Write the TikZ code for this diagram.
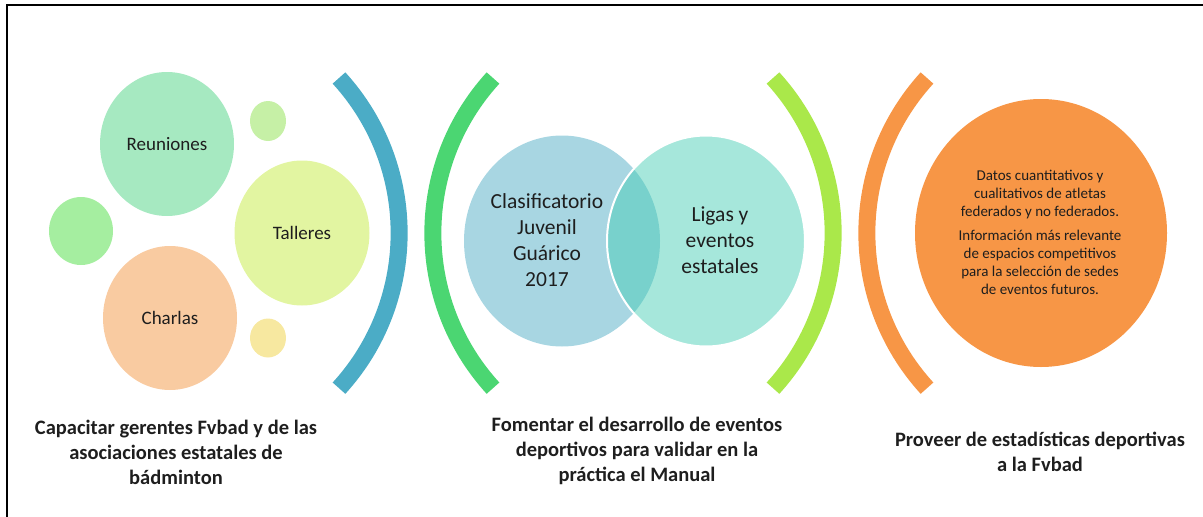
\documentclass[tikz,border=0pt]{standalone}
\usepackage{fontspec}
\setmainfont{Carlito}
\usetikzlibrary{shapes.geometric}
\definecolor{cReu}{HTML}{A6E9C1}
\definecolor{cSmA}{HTML}{C6F0A6}
\definecolor{cLeft}{HTML}{A5EEA0}
\definecolor{cTal}{HTML}{E2F5A1}
\definecolor{cCha}{HTML}{F9CBA1}
\definecolor{cSmB}{HTML}{F7E8A0}
\definecolor{cBlue}{HTML}{4BACC6}
\definecolor{cGreen}{HTML}{4BD672}
\definecolor{cCla}{HTML}{A8D6E2}
\definecolor{cLig}{HTML}{A6E7DB}
\definecolor{cOver}{HTML}{78D1CC}
\definecolor{cLime}{HTML}{AAE84A}
\definecolor{cOrange}{HTML}{F79646}
\definecolor{cText}{HTML}{1E1E1E}
\begin{document}
\begin{tikzpicture}[x=1pt,y=-1pt,
  bubble/.style={ellipse, inner sep=0pt, text=cText},
  bracket/.style={line width=17pt},
  goal/.style={align=center, text=cText, font=\fontsize{20.5}{25}\selectfont\bfseries},
  frameline/.style={line width=2pt, black}]
\useasboundingbox (0,0) rectangle (1203,517);
% frame
\coordinate (fbl) at (7,517);
\coordinate (ftl) at (7,5);
\coordinate (ftr) at (1203,5);
\draw[frameline] (fbl) -- (ftl) -- (ftr);

% group 1 bubbles
\node[bubble, fill=cReu, minimum width=134pt, minimum height=144pt, font=\fontsize{19}{22}\selectfont] (reu) at (167,144) {Reuniones};
\node[bubble, fill=cSmA, minimum width=36pt, minimum height=40pt] (sma) at (268,121) {};
\node[bubble, fill=cLeft, minimum width=64pt, minimum height=68pt] (lft) at (81,231) {};
\node[bubble, fill=cTal, minimum width=135pt, minimum height=145pt, font=\fontsize{19}{22}\selectfont] (tal) at (302,233) {Talleres};
\node[bubble, fill=cCha, minimum width=134pt, minimum height=144pt, font=\fontsize{19}{22}\selectfont] (cha) at (170,318) {Charlas};
\node[bubble, fill=cSmB, minimum width=36pt, minimum height=39pt] (smb) at (268,338) {};

% brackets
\coordinate (b1) at (339,78);
\draw[bracket, cBlue] (b1) arc[start angle=42.4, end angle=-42.4, radius=230pt];
\coordinate (b2) at (493,78);
\draw[bracket, cGreen] (b2) arc[start angle=137.6, end angle=222.4, radius=230pt];
\coordinate (b3) at (773,78);
\draw[bracket, cLime] (b3) arc[start angle=42.4, end angle=-42.4, radius=230pt];
\coordinate (b4) at (927,78);
\draw[bracket, cOrange] (b4) arc[start angle=137.6, end angle=222.4, radius=230pt];

% venn
\node[bubble, fill=cCla, minimum width=196pt, minimum height=211pt] (cla) at (562,241) {};
\node[bubble, fill=cLig, minimum width=198pt, minimum height=211pt] (lig) at (706,241) {};
\begin{scope}
  \clip (562,241) ellipse[x radius=98pt, y radius=105.5pt];
  \fill[cOver] (706,241) ellipse[x radius=99pt, y radius=105.5pt];
\end{scope}
\draw[white, line width=2pt] (706,241) ellipse[x radius=99pt, y radius=105.5pt];
\node[align=center, text=cText, font=\fontsize{21.5}{26}\selectfont] (clat) at (547,240) {Clasificatorio\\Juvenil\\Guárico\\2017};
\node[align=center, text=cText, font=\fontsize{21.5}{26}\selectfont] (ligt) at (720,240) {Ligas y\\eventos\\estatales};

% orange circle
\node[bubble, fill=cOrange, minimum width=252pt, minimum height=268pt] (ora) at (1041,233) {};
\node[align=center, text=cText, font=\fontsize{15}{18}\selectfont] (orat) at (1040,232)
  {Datos cuantitativos y\\cualitativos de atletas\\federados y no federados.\\[6pt]
   Información más relevante\\de espacios competitivos\\para la selección de sedes\\de eventos futuros.};

% goals
\node[goal] (g1) at (176,452) {Capacitar gerentes Fvbad y de las\\asociaciones estatales de\\bádminton};
\node[goal] (g2) at (637,451) {Fomentar el desarrollo de eventos\\deportivos para validar en la\\práctica el Manual};
\node[goal] (g3) at (1040,452) {Proveer de estadísticas deportivas\\a la Fvbad};
\end{tikzpicture}
\end{document}
